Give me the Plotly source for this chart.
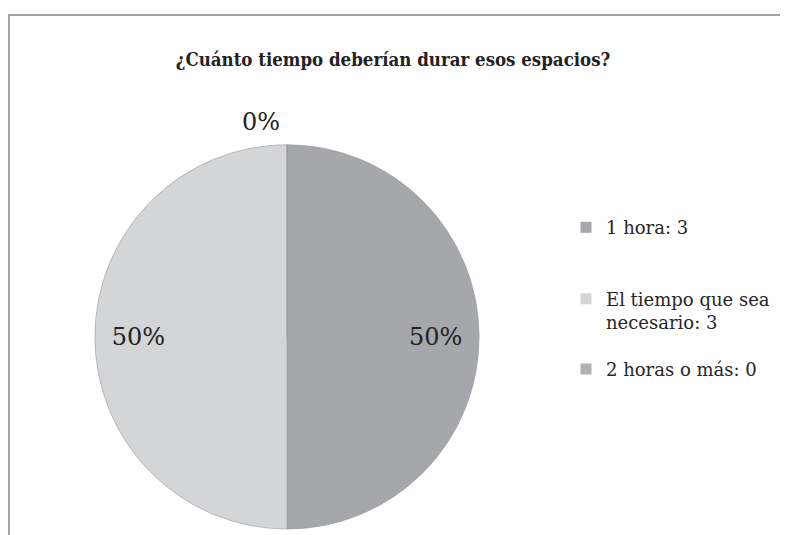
import textwrap
import plotly.graph_objects as go

# ---- data ----
title_text = "¿Cuánto tiempo deberían durar esos espacios?"
categories = ["1 hora", "El tiempo que sea necesario", "2 horas o más"]
values = [3, 3, 0]
colors = ["#a6a7aa", "#d4d5d7", "#b0b1b4"]

W, H = 788, 535
OFF = 8  # page body margin offset
legend_labels = ["<br>".join(textwrap.wrap(f"{c}: {v}", width=18)) for c, v in zip(categories, values)]


def px_x(x):
    return (x - OFF) / W


def px_y(y):
    return 1 - (y - OFF) / H


def domain_for(cx, cy, r):
    return dict(x=[px_x(cx - r), px_x(cx + r)], y=[px_y(cy + r), px_y(cy - r)])


cx, cy, r = 287, 340, 194
label_r = 150          # radius at which the inside percentages sit
ring_r = 203           # radius of the transparent label ring (pushes outside label up)

fig = go.Figure()
# visible slices
fig.add_trace(go.Pie(
    labels=categories, values=values, sort=False,
    direction="clockwise", rotation=0,
    marker=dict(colors=colors, line=dict(color="#9a9b9e", width=0.6)),
    textinfo="none", showlegend=False,
    hoverinfo="label+value+percent",
    domain=domain_for(cx, cy, r),
))
# transparent ring carrying the percentage labels
fig.add_trace(go.Pie(
    labels=categories, values=values, sort=False,
    direction="clockwise", rotation=0, hole=2 * label_r / ring_r - 1,
    marker=dict(colors=["rgba(0,0,0,0)"] * len(values), line=dict(width=0)),
    texttemplate="%{percent:.0%}",
    textposition=["inside", "inside", "outside"],
    insidetextorientation="horizontal",
    textfont=dict(family="DejaVu Serif", size=24, color="#222222"),
    showlegend=False, hoverinfo="skip",
    domain=domain_for(cx, cy, ring_r),
))

legend_tops = [211, 283, 354]
legend_names = ["legend", "legend2", "legend3"]
for lab, col, lg in zip(legend_labels, colors, legend_names):
    fig.add_trace(go.Scatter(
        x=[None], y=[None], mode="markers", name=lab, legend=lg,
        marker=dict(symbol="square", size=11, color=col),
        hoverinfo="skip",
    ))

legend_common = dict(
    x=px_x(566), xanchor="left", yanchor="top", valign="top",
    bgcolor="rgba(0,0,0,0)", borderwidth=0,
    font=dict(family="DejaVu Serif", size=18, color="#262626"),
)
layout_legends = {}
for lg, top in zip(legend_names, legend_tops):
    layout_legends[lg] = dict(legend_common, y=px_y(top))

fig.update_layout(
    width=W, height=H,
    margin=dict(l=0, r=0, t=0, b=0),
    paper_bgcolor="white",
    plot_bgcolor="white",
    title=dict(
        text=f"<b>{title_text}</b>",
        x=px_x(393), xanchor="center", xref="paper",
        y=px_y(60), yanchor="middle", yref="container",
        font=dict(family="DejaVu Serif Condensed, Liberation Serif", size=18.5, color="#222222"),
    ),
    xaxis=dict(visible=False),
    yaxis=dict(visible=False),
    **layout_legends,
    shapes=[dict(
        type="rect", xref="paper", yref="paper",
        x0=1 / W, x1=1.05, y0=-0.05, y1=px_y(15),
        line=dict(color="#a2a3a6", width=2), fillcolor="rgba(0,0,0,0)",
        layer="below",
    )],
)

fig.write_html("out.html")
